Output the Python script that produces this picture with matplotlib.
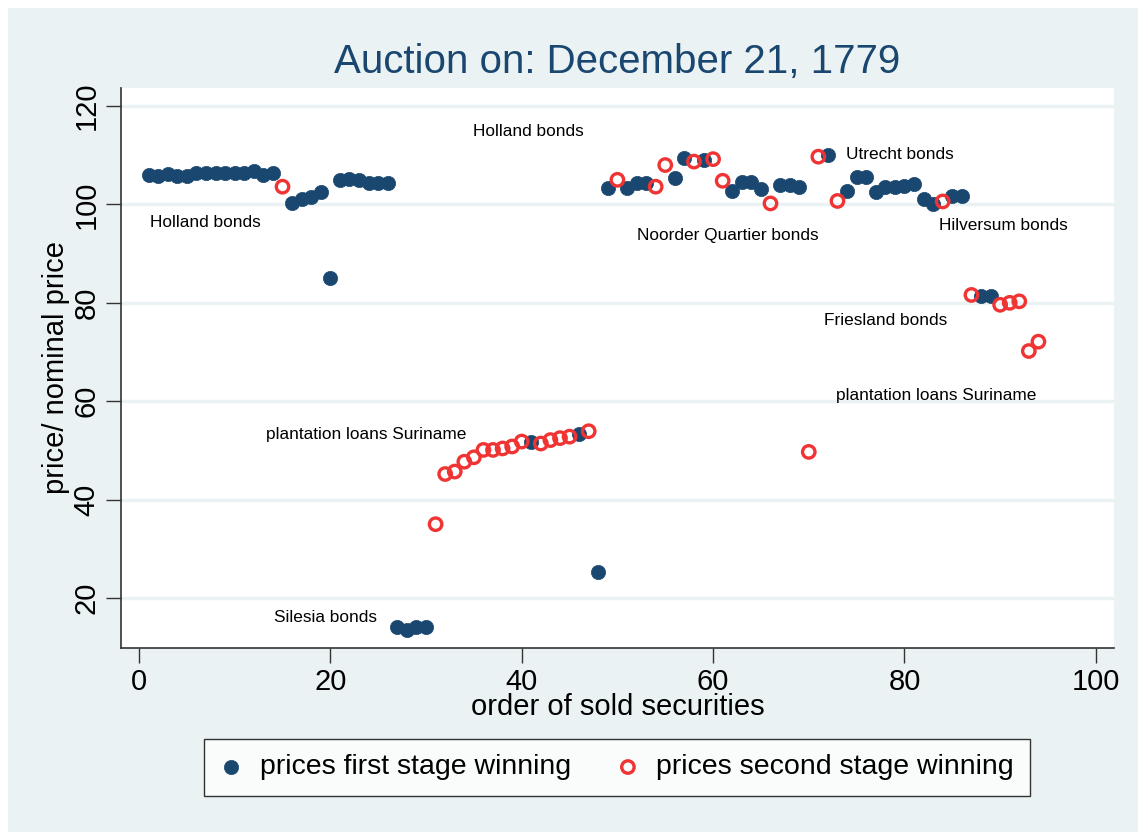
import numpy as np
import matplotlib.pyplot as plt
from matplotlib.patches import Rectangle

plt.rcParams['font.family'] = ['Liberation Sans', 'DejaVu Sans']

# first stage winning prices (filled markers)
first_x = [1, 2, 3, 4, 5, 6, 7, 8, 9, 10, 11, 12, 13, 14,
           16, 17, 18, 19, 20, 21, 22, 23, 24, 25, 26,
           27, 28, 29, 30, 41, 46, 48, 49, 51, 52, 53, 56, 57, 59,
           62, 63, 64, 65, 67, 68, 69, 72, 74, 75, 76, 77, 78, 79,
           80, 81, 82, 83, 85, 86, 88, 89]
first_y = [106.0, 105.8, 106.2, 105.8, 105.8, 106.3, 106.3, 106.3, 106.3, 106.3, 106.3, 106.8, 106.0, 106.4,
           100.3, 101.2, 101.6, 102.5, 85.0, 105.0, 105.1, 105.0, 104.3, 104.3, 104.3,
           14.2, 13.5, 14.2, 14.2, 51.8, 53.3, 25.3, 103.4, 103.3, 104.3, 104.3, 105.3, 109.4, 109.0,
           102.8, 104.6, 104.6, 103.1, 103.9, 103.9, 103.6, 110.0, 102.8, 105.6, 105.6, 102.6, 103.5, 103.5,
           103.7, 104.1, 101.0, 100.1, 101.7, 101.7, 81.4, 81.4]

# second stage winning prices (hollow markers)
second_x = [15, 31, 32, 33, 34, 35, 36, 37, 38, 39, 40, 42, 43, 44, 45, 47,
            50, 54, 55, 58, 60, 61, 66, 70, 71, 73, 84, 87, 90, 91, 92, 93, 94]
second_y = [103.6, 35.0, 45.2, 45.7, 47.7, 48.6, 50.1, 50.1, 50.4, 50.8, 51.8, 51.4, 52.1, 52.5, 52.8, 53.9,
            105.0, 103.6, 108.0, 108.7, 109.2, 104.8, 100.2, 49.7, 109.7, 100.7, 100.6, 81.6, 79.6, 80.0, 80.3, 70.2, 72.1]

labels = ["Holland bonds", "Holland bonds", "Noorder Quartier bonds", "Utrecht bonds",
          "Hilversum bonds", "Friesland bonds", "plantation loans Suriname",
          "plantation loans Suriname", "Silesia bonds"]
label_x = [1.15, 34.9, 52.1, 73.9, 83.6, 71.6, 72.8, 13.3, 14.1]
label_y = [96.4, 114.9, 93.6, 110.2, 95.8, 76.5, 61.1, 53.3, 16.0]

bg = '#EAF2F3'
navy = '#1A476F'
red = '#F03434'

fig = plt.figure(figsize=(11.38, 8.32), dpi=100)
fig.patch.set_facecolor('white')
fig.add_artist(Rectangle((8 / 1138, 0), 1, 1 - 8 / 832, transform=fig.transFigure,
                         facecolor=bg, edgecolor='none', zorder=-10))

ax = fig.add_axes([121 / 1138, 1 - 648 / 832, (1114 - 121) / 1138, (648 - 88) / 832])
ax.set_facecolor('white')

ax.scatter(first_x, first_y, s=105, color=navy, edgecolors=navy, linewidths=0.5,
           label='prices first stage winning', zorder=3)
ax.scatter(second_x, second_y, s=80, facecolors='none', edgecolors=red, linewidths=2.4,
           label='prices second stage winning', zorder=4)

for t, lx, ly in zip(labels, label_x, label_y):
    ax.text(lx, ly, t, fontsize=12.4, ha='left', va='center', color='black', zorder=5)

ax.set_xlim(-1.88, 101.9)
ax.set_ylim(9.84, 123.66)
ax.set_xticks([0, 20, 40, 60, 80, 100])
ax.set_yticks([20, 40, 60, 80, 100, 120])
ax.tick_params(axis='both', labelsize=21, length=11, width=1, color='#333333')
for lab in ax.get_yticklabels():
    lab.set_rotation(90)
    lab.set_va('center')
ax.grid(axis='y', color=bg, linewidth=2.5)
ax.set_axisbelow(True)
for side in ['top', 'right']:
    ax.spines[side].set_visible(False)
for side in ['left', 'bottom']:
    ax.spines[side].set_color('#333333')
    ax.spines[side].set_linewidth(1.2)

ax.set_xlabel('order of sold securities', fontsize=21, labelpad=-2)
ax.set_ylabel('price/ nominal price', fontsize=21, labelpad=2)
fig.text(617 / 1138, 1 - 62 / 832, 'Auction on: December 21, 1779', fontsize=29,
         color='#1A476F', ha='center', va='center')

leg = fig.legend(loc='center', bbox_to_anchor=(617 / 1138, 1 - 767.5 / 832), ncol=2,
                 fontsize=20.5, frameon=True, fancybox=False, edgecolor='black',
                 handlelength=0.8, handletextpad=0.6, columnspacing=1.6, borderpad=0.55,
                 borderaxespad=0, scatterpoints=1)
leg.get_frame().set_linewidth(1.0)
leg.get_frame().set_facecolor('white')

fig.savefig('out.png', dpi=100, facecolor=fig.get_facecolor())
